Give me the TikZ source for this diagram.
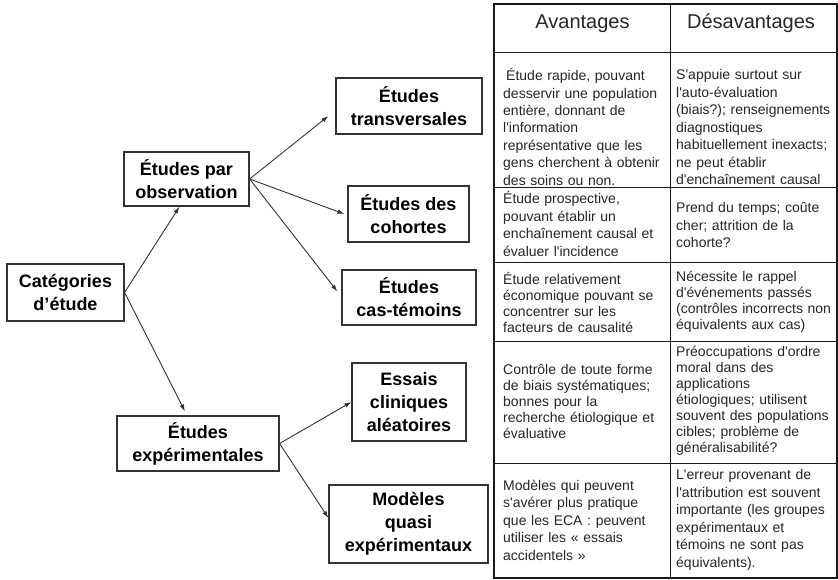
\documentclass[tikz,border=0pt]{standalone}
\usepackage{fontspec}
\newfontfamily\arialfont{Liberation Sans}
\usetikzlibrary{positioning,arrows.meta}

\begin{document}
\begin{tikzpicture}[
  x=1pt,y=-1pt,
  every node/.style={scale=1.0},
  boxes/.style 2 args={rectangle,draw=black!80,line width=1.2pt,align=center,inner sep=0pt,minimum width=#1,minimum height=#2,font=\arialfont\bfseries\fontsize{18}{23}\selectfont},
  links/.style={-{Latex[length=7pt,width=4.5pt]},line width=0.9pt,draw=black!80},
  tabhead/.style={anchor=base,inner sep=0pt,font=\arialfont\fontsize{20}{22}\selectfont,text=black!85},
  tabtext/.style={anchor=west,inner sep=0pt,text width=158pt,align=left,font=\arialfont\fontsize{14}{#1}\selectfont,text=black!85},
  tabtext/.default=17.5,
]
\useasboundingbox[fill=white] (0,0) rectangle (838,580);

\node (cat) [boxes={117pt}{57pt}] at (65.5,292.5) {Catégories\\d’étude};
\node (obs) [boxes={125pt}{54pt}] at (186.5,179) {Études par\\observation};
\node (exp) [boxes={162pt}{55pt}] at (198,443.5) {Études\\expérimentales};
\node (trans) [boxes={146pt}{56pt}] at (409,106) {Études\\transversales};
\node (coh) [boxes={121pt}{56pt}] at (408.5,214) {Études des\\cohortes};
\node (cas) [boxes={134pt}{55pt}] at (409,297.5) {Études\\cas-témoins};
\node (ess) [boxes={114pt}{78pt}] at (409,402) {Essais\\cliniques\\aléatoires};
\node (mod) [boxes={159pt}{78pt}] at (408.5,524) {Modèles\\quasi\\expérimentaux};

\draw[links] (cat.east) to ([xshift=-7pt]obs.south);
\draw[links] (cat.east) to ([shift={(-13pt,4pt)}]exp.north);
\draw[links] (obs.east) to ([shift={(-7pt,-10pt)}]trans.west);
\draw[links] (obs.east) to ([xshift=-3pt]coh.west);
\draw[links] (obs.east) to ([shift={(-4pt,6pt)}]cas.west);
\draw[links] (exp.east) to (ess.west);
\draw[links] (exp.east) to ([yshift=6pt]mod.west);

\draw[line width=2pt,draw=black!90] (494,4) rectangle (837,578);
\foreach \y in {53,188,262,341,463}
  \draw[line width=1pt,draw=black!90] (494,\y) -- (837,\y);
\draw[line width=1pt,draw=black!90] (670,4) -- (670,578);

\node (adv) [tabhead] at (582.5,28.5) {Avantages};
\node (dis) [tabhead] at (751,28.5) {Désavantages};

\node (adv1) [tabtext] at (503,127) {\hspace*{3pt}Étude rapide, pouvant\\desservir une population\\entière, donnant de\\l'information\\représentative que les\\gens cherchent à obtenir\\des soins ou non.};
\node (dis1) [tabtext] at (676,127) {S'appuie surtout sur\\l'auto-évaluation\\(biais?); renseignements\\diagnostiques\\habituellement inexacts;\\ne peut établir\\d'enchaînement causal};
\node (adv2) [tabtext] at (503,224) {Étude prospective,\\pouvant établir un\\enchaînement causal et\\évaluer l'incidence};
\node (dis2) [tabtext] at (676,225) {Prend du temps; coûte\\cher; attrition de la\\cohorte?};
\node (adv3) [tabtext=16] at (503,302) {Étude relativement\\économique pouvant se\\concentrer sur les\\facteurs de causalité};
\node (dis3) [tabtext=16] at (676,302) {Nécessite le rappel\\d'événements passés\\(contrôles incorrects non\\équivalents aux cas)};
\node (adv4) [tabtext=16] at (503,401) {Contrôle de toute forme\\de biais systématiques;\\bonnes pour la\\recherche étiologique et\\évaluative};
\node (dis4) [tabtext=16] at (676,401) {Préoccupations d'ordre\\moral dans des\\applications\\étiologiques; utilisent\\souvent des populations\\cibles; problème de\\généralisabilité?};
\node (adv5) [tabtext] at (503,520) {Modèles qui peuvent\\s'avérer plus pratique\\que les ECA : peuvent\\utiliser les « essais\\accidentels »};
\node (dis5) [tabtext] at (676,520) {L'erreur provenant de\\l'attribution est souvent\\importante (les groupes\\expérimentaux et\\témoins ne sont pas\\équivalents).};
\end{tikzpicture}
\end{document}
